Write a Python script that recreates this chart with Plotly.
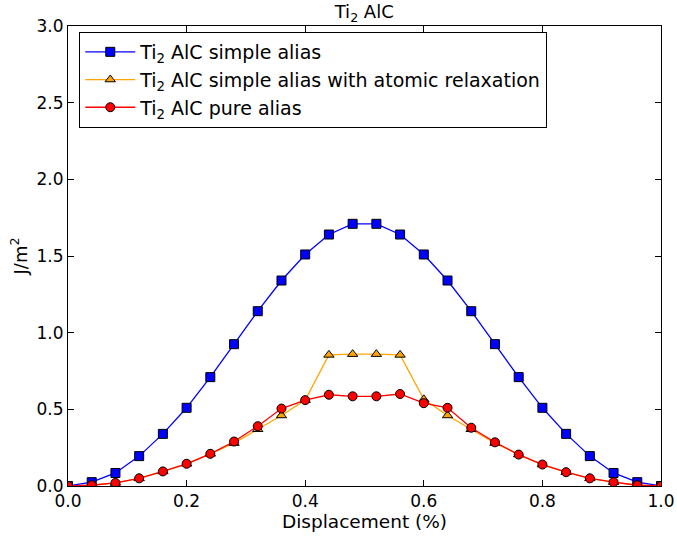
import plotly.graph_objects as go

x = [0.00, 0.04, 0.08, 0.12, 0.16, 0.20, 0.24, 0.28, 0.32, 0.36, 0.40, 0.44, 0.48,
     0.52, 0.56, 0.60, 0.64, 0.68, 0.72, 0.76, 0.80, 0.84, 0.88, 0.92, 0.96, 1.00]

simple_alias = [0.0, 0.025, 0.085, 0.195, 0.34, 0.51, 0.71, 0.925, 1.14, 1.34, 1.51, 1.64, 1.71,
                1.71, 1.64, 1.51, 1.34, 1.14, 0.925, 0.71, 0.51, 0.34, 0.195, 0.085, 0.025, 0.0]

relaxation = [0.0, 0.005, 0.02, 0.05, 0.095, 0.145, 0.21, 0.28, 0.37, 0.46, 0.56, 0.855, 0.86,
              0.86, 0.855, 0.565, 0.46, 0.37, 0.28, 0.205, 0.14, 0.09, 0.05, 0.025, 0.005, 0.0]

pure_alias = [0.0, 0.005, 0.02, 0.05, 0.095, 0.145, 0.21, 0.29, 0.39, 0.505, 0.56, 0.595, 0.585,
              0.585, 0.6, 0.54, 0.51, 0.38, 0.285, 0.205, 0.14, 0.09, 0.05, 0.025, 0.005, 0.0]

names = ["Ti<sub>2</sub> AlC simple alias",
         "Ti<sub>2</sub> AlC simple alias with atomic relaxation",
         "Ti<sub>2</sub> AlC pure alias"]

fig = go.Figure()
fig.add_trace(go.Scatter(x=x, y=simple_alias, mode="lines+markers", name=names[0],
                         line=dict(color="blue", width=1.3),
                         marker=dict(symbol="square", size=9, color="blue",
                                     line=dict(color="black", width=1))))
fig.add_trace(go.Scatter(x=x, y=relaxation, mode="lines+markers", name=names[1],
                         line=dict(color="orange", width=1.3),
                         marker=dict(symbol="triangle-up", size=9, color="orange",
                                     line=dict(color="black", width=1))))
fig.add_trace(go.Scatter(x=x, y=pure_alias, mode="lines+markers", name=names[2],
                         line=dict(color="red", width=1.3),
                         marker=dict(symbol="circle", size=9, color="red",
                                     line=dict(color="black", width=1))))

axis_common = dict(showgrid=False, zeroline=False, showline=True, linecolor="black",
                   linewidth=1, mirror="allticks", ticks="inside", ticklen=6,
                   tickcolor="black", tickfont=dict(size=17, color="black"),
                   automargin=False)

fig.update_layout(
    width=677, height=540,
    margin=dict(l=68, r=16, t=26, b=54),
    paper_bgcolor="white", plot_bgcolor="white",
    font=dict(family="DejaVu Sans", color="black"),
    title=dict(text="Ti<sub>2</sub> AlC", x=0.538, xanchor="center", y=0.99, yanchor="top",
               font=dict(size=18)),
    xaxis=dict(range=[0, 1], tickvals=[0, 0.2, 0.4, 0.6, 0.8, 1.0],
               ticktext=["0.0", "0.2", "0.4", "0.6", "0.8", "1.0"],
               title=dict(text="Displacement (%)", font=dict(size=18.5), standoff=4),
               **axis_common),
    yaxis=dict(range=[0, 3], tickvals=[0, 0.5, 1.0, 1.5, 2.0, 2.5, 3.0],
               ticktext=["0.0", "0.5", "1.0", "1.5", "2.0", "2.5", "3.0"],
               title=dict(text="J/m<sup>2</sup>", font=dict(size=18), standoff=4),
               **axis_common),
    legend=dict(x=0.019, y=0.987, xanchor="left", yanchor="top",
                bordercolor="black", borderwidth=1, bgcolor="white",
                font=dict(size=19), itemwidth=50),
    showlegend=True,
)

fig.write_html("out.html")
